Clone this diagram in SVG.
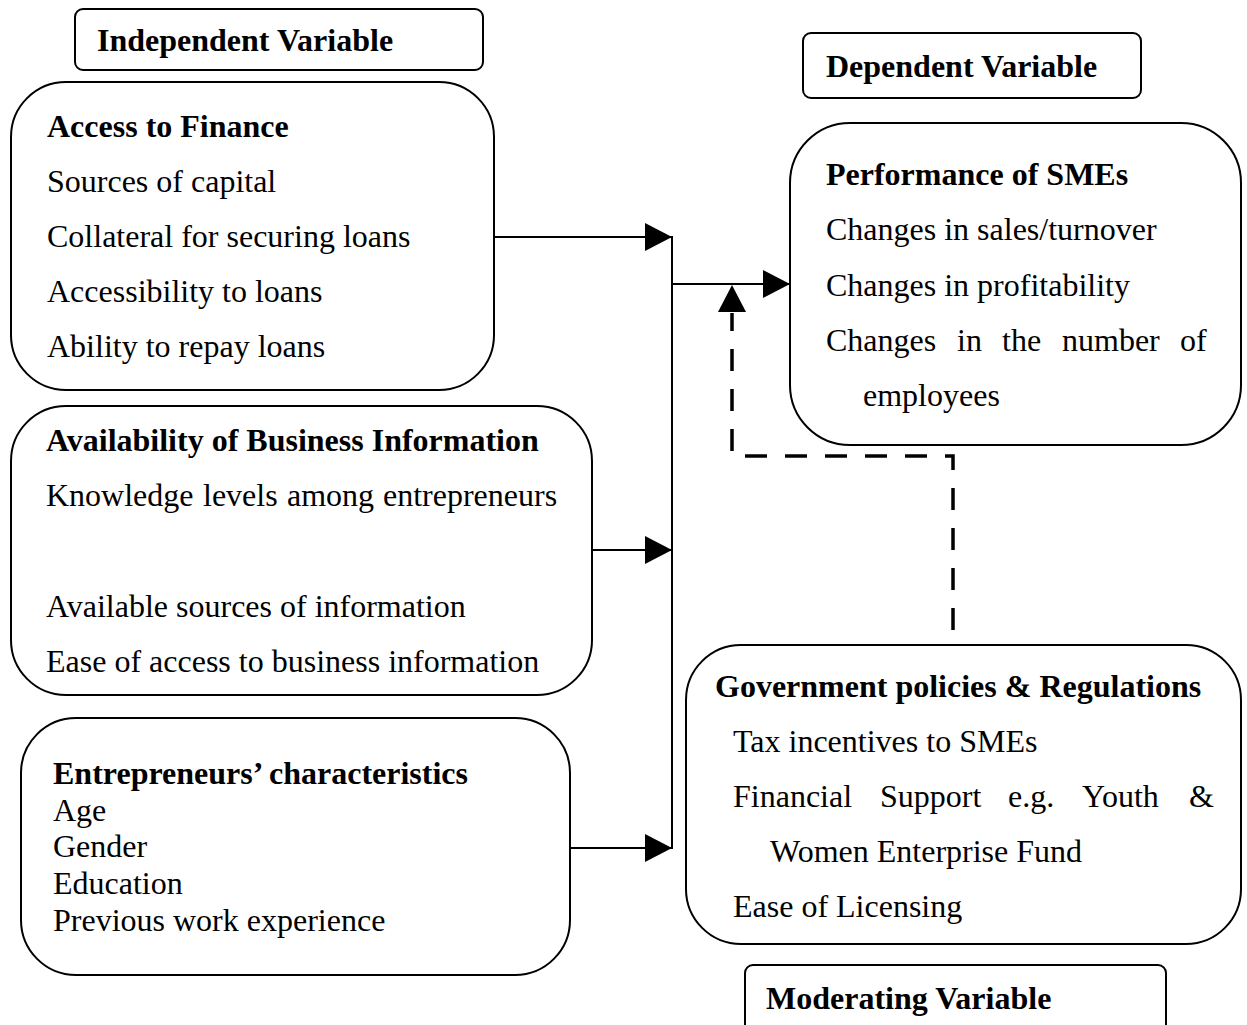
<svg xmlns="http://www.w3.org/2000/svg" width="1247" height="1025" viewBox="0 0 1247 1025">
  <style>
    .box { fill: #fff; stroke: #000; stroke-width: 2; }
    .t { font-family: "Liberation Serif", "Times New Roman", serif; font-size: 32px; fill: #000; }
    .b { font-weight: bold; }
    .ln { fill: none; stroke: #000; stroke-width: 2; }
    .dash { fill: none; stroke: #000; stroke-width: 3.5; stroke-dasharray: 22 18; }
  </style>
  <defs>
    <marker id="head" viewBox="0 0 27 28" refX="27" refY="14" markerWidth="27" markerHeight="28" markerUnits="userSpaceOnUse" orient="auto">
      <path d="M0,0 L27,14 L0,28 Z" fill="#000"/>
    </marker>
  </defs>
  <rect width="1247" height="1025" fill="#fff"/>

  <!-- labels for variable groups -->
  <g id="label-independent">
    <rect class="box" x="75" y="9" width="408" height="61" rx="8"/>
    <text class="t b" x="97" y="51">Independent Variable</text>
  </g>
  <g id="label-dependent">
    <rect class="box" x="803" y="33" width="338" height="65" rx="8"/>
    <text class="t b" x="826" y="77">Dependent Variable</text>
  </g>
  <g id="label-moderating">
    <rect class="box" x="745" y="965" width="421" height="70" rx="8"/>
    <text class="t b" x="766" y="1009">Moderating Variable</text>
  </g>

  <!-- independent variables -->
  <g id="access-to-finance">
    <rect class="box" x="11" y="82" width="483" height="308" rx="55"/>
    <text class="t b" x="47" y="137">Access to Finance</text>
    <text class="t" x="47" y="192">Sources of capital</text>
    <text class="t" x="47" y="247">Collateral for securing loans</text>
    <text class="t" x="47" y="302">Accessibility to loans</text>
    <text class="t" x="47" y="357">Ability to repay loans</text>
  </g>
  <g id="business-information">
    <rect class="box" x="11" y="406" width="581" height="289" rx="55"/>
    <text class="t b" x="46" y="451">Availability of Business Information</text>
    <text class="t" y="506"><tspan x="46">Knowledge</tspan><tspan x="203">levels</tspan><tspan x="287">among</tspan><tspan x="383">entrepreneurs</tspan></text>
    <text class="t" x="46" y="617">Available sources of information</text>
    <text class="t" x="46" y="672">Ease of access to business information</text>
  </g>
  <g id="entrepreneur-characteristics">
    <rect class="box" x="21" y="718" width="549" height="257" rx="55"/>
    <text class="t b" x="53" y="784">Entrepreneurs’ characteristics</text>
    <text class="t" x="53" y="821">Age</text>
    <text class="t" x="53" y="857">Gender</text>
    <text class="t" x="53" y="894">Education</text>
    <text class="t" x="53" y="931">Previous work experience</text>
  </g>

  <!-- dependent variable -->
  <g id="sme-performance">
    <rect class="box" x="790" y="123" width="451" height="322" rx="60"/>
    <text class="t b" x="826" y="185">Performance of SMEs</text>
    <text class="t" x="826" y="240">Changes in sales/turnover</text>
    <text class="t" x="826" y="296">Changes in profitability</text>
    <text class="t" y="351"><tspan x="826">Changes</tspan><tspan x="957">in</tspan><tspan x="1002">the</tspan><tspan x="1062">number</tspan><tspan x="1180">of</tspan></text>
    <text class="t" x="863" y="406">employees</text>
  </g>

  <!-- moderating variable -->
  <g id="government-policies">
    <rect class="box" x="686" y="645" width="555" height="299" rx="55"/>
    <text class="t b" x="715" y="697">Government policies &amp; Regulations</text>
    <text class="t" x="733" y="752">Tax incentives to SMEs</text>
    <text class="t" y="807"><tspan x="733">Financial</tspan><tspan x="880">Support</tspan><tspan x="1008">e.g.</tspan><tspan x="1082">Youth</tspan><tspan x="1189">&amp;</tspan></text>
    <text class="t" x="770" y="862">Women Enterprise Fund</text>
    <text class="t" x="733" y="917">Ease of Licensing</text>
  </g>

  <!-- connectors -->
  <g id="connectors">
    <line class="ln" x1="494" y1="237" x2="672" y2="237" marker-end="url(#head)"/>
    <line class="ln" x1="592" y1="550" x2="672" y2="550" marker-end="url(#head)"/>
    <line class="ln" x1="570" y1="848" x2="672" y2="848" marker-end="url(#head)"/>
    <line class="ln" x1="672" y1="236" x2="672" y2="849"/>
    <line class="ln" x1="672" y1="284" x2="790" y2="284" marker-end="url(#head)"/>
    <polyline class="dash" points="953,630 953,456 732,456 732,313"/>
    <path d="M732,285 L746,312 L718,312 Z" fill="#000"/>
  </g>
</svg>
